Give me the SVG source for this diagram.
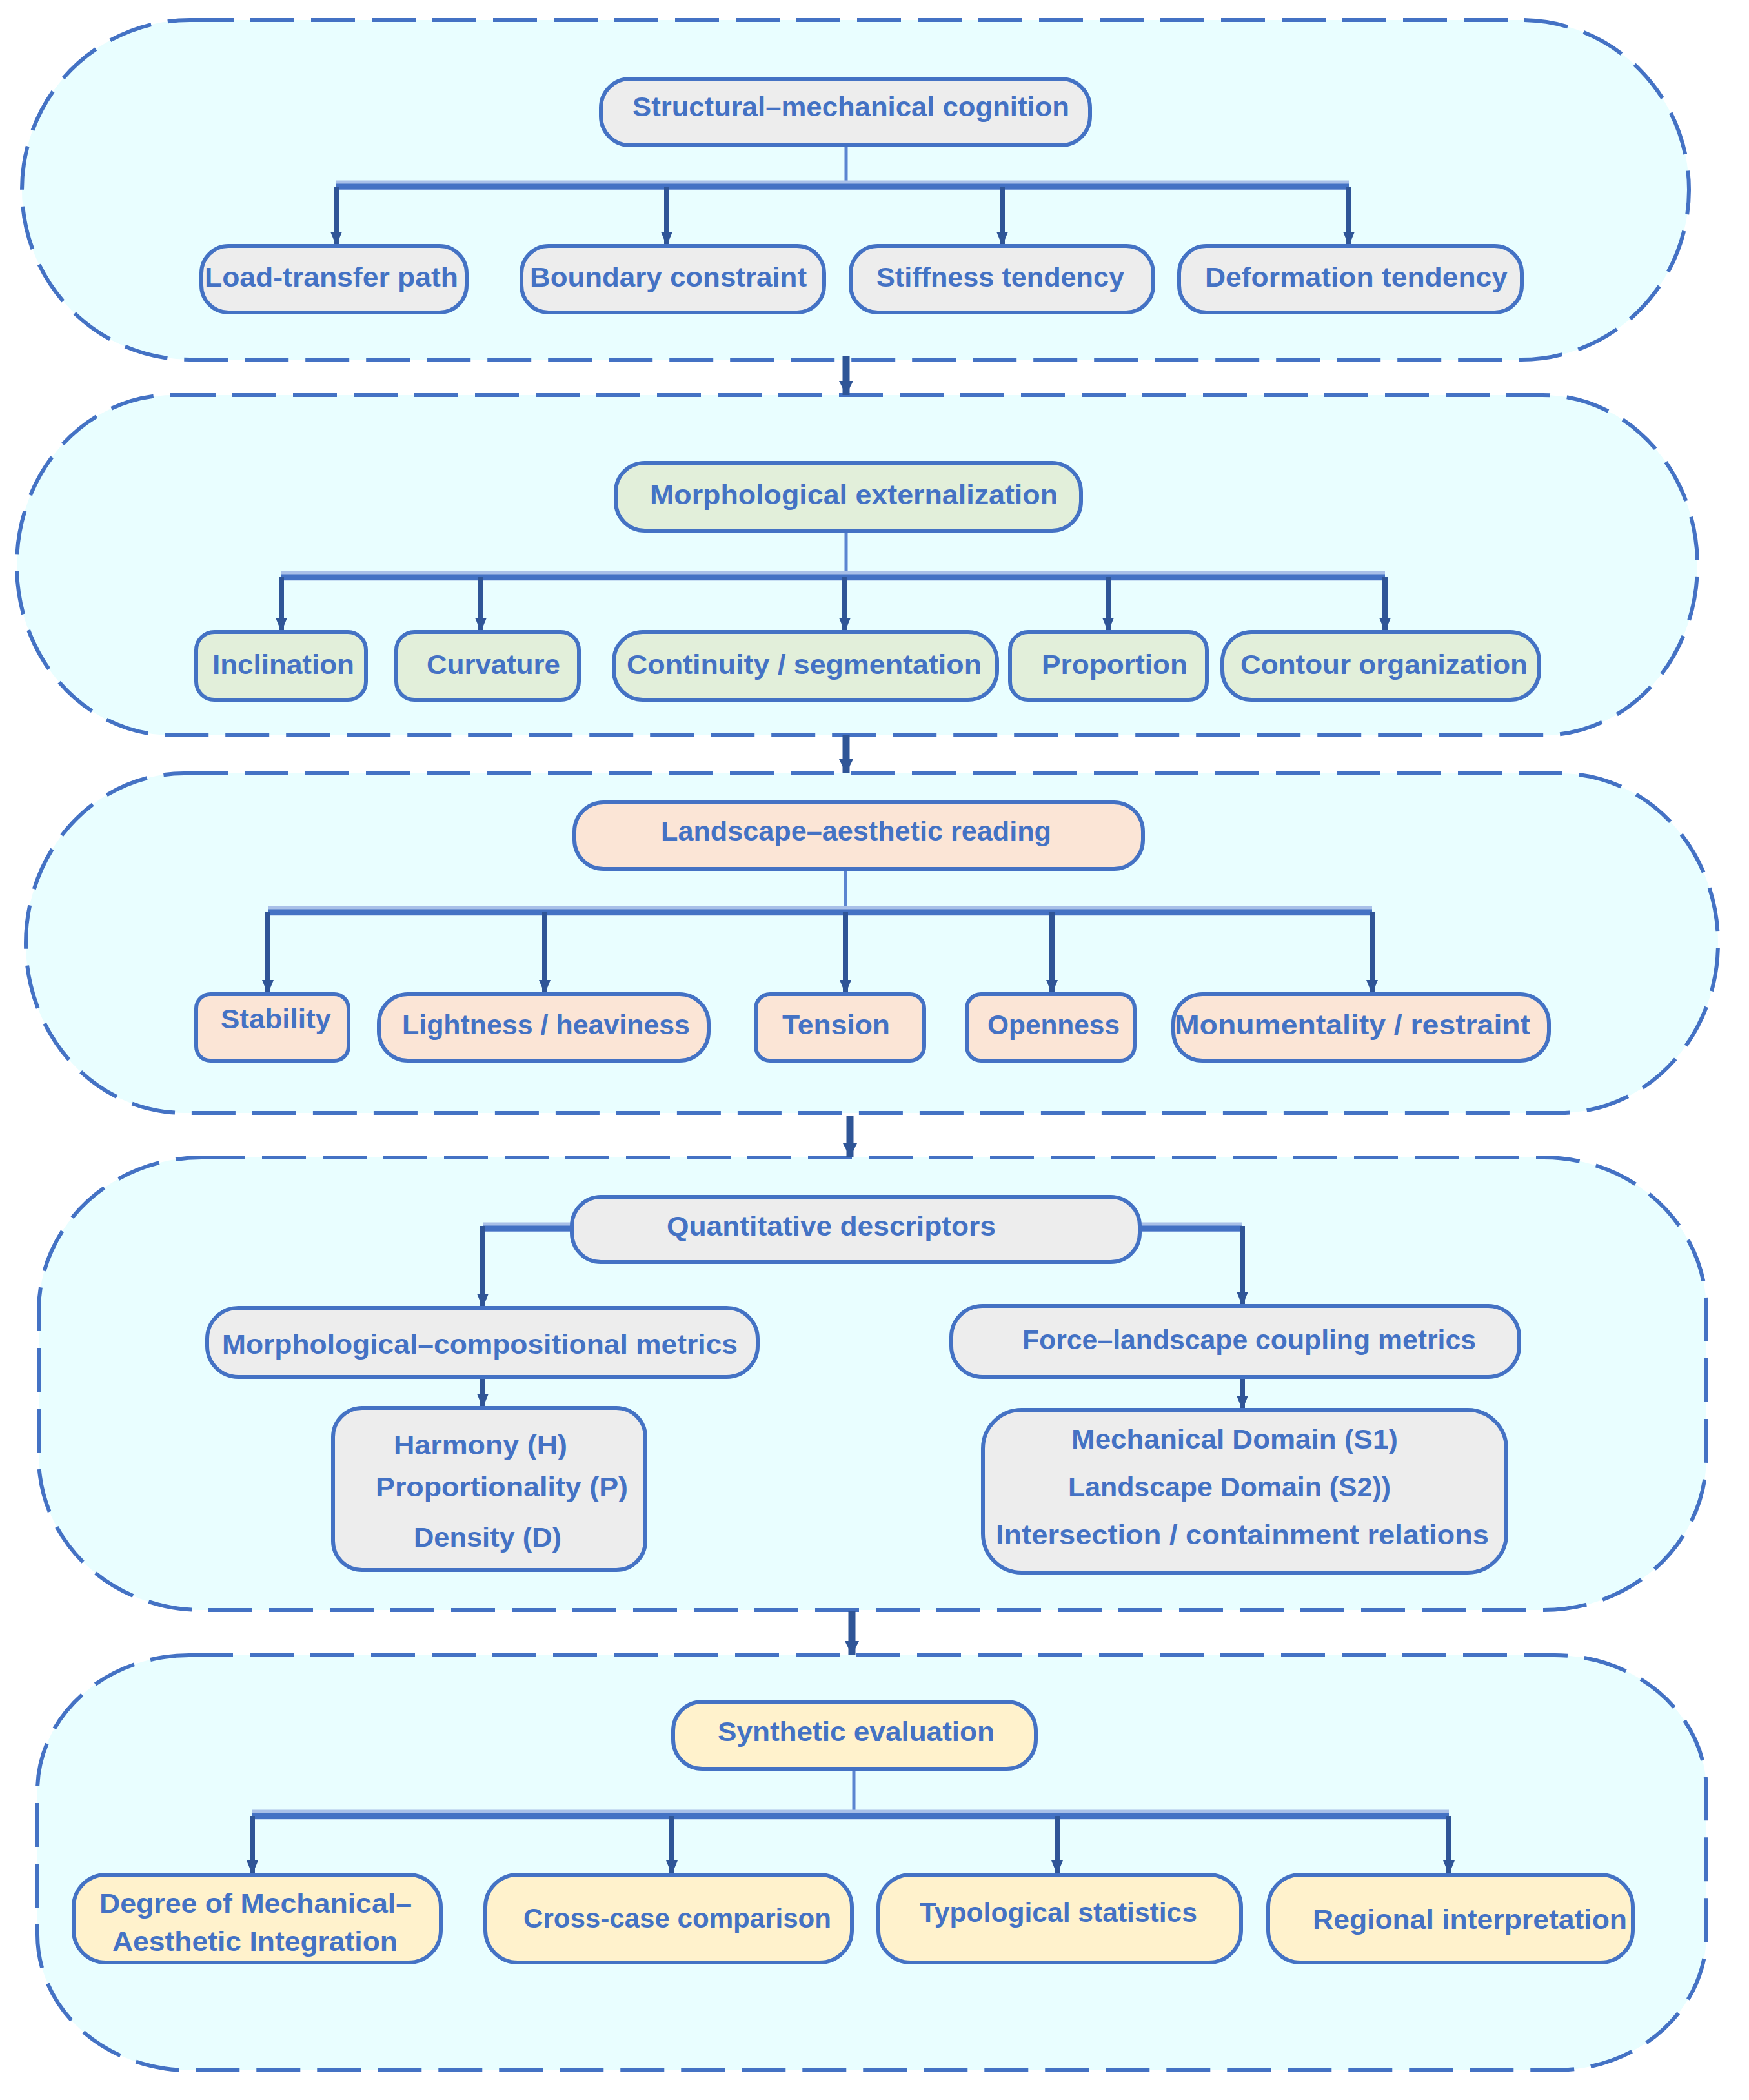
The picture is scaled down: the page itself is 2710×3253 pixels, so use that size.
<svg xmlns="http://www.w3.org/2000/svg" width="2710" height="3253" viewBox="0 0 2710 3253">
<style>
.panel{fill:#E9FEFF;stroke:#4472C4;stroke-width:6;stroke-dasharray:68 26}
.nd{stroke:#4472C4;stroke-width:6}
.halo{fill:none;stroke:#B4C7E7;stroke-width:12}
.g{fill:#EDEDED}.gr{fill:#E2EFDA}.pe{fill:#FBE5D6}.ye{fill:#FFF2CC}
.t{font-family:"Liberation Sans Narrow","Liberation Sans",Arial,sans-serif;font-weight:bold;font-size:42px;fill:#4472C4}
.trunk{stroke:#5B85D0;stroke-width:5;fill:none}
.bar{stroke:#4472C4;stroke-width:9;fill:none}
.barh{stroke:#A9C0E8;stroke-width:15;fill:none}
.drop{stroke:#2F5597;stroke-width:8;fill:none;marker-end:url(#ah)}
.big{stroke:#2F5597;stroke-width:11;fill:none;marker-end:url(#ahb)}
</style>
<defs>
<marker id="ah" markerUnits="userSpaceOnUse" viewBox="0 0 22 18" refX="22" refY="9" markerWidth="22" markerHeight="18" orient="auto"><path d="M0,0 L22,9 L0,18 z" fill="#2F5597"/></marker>
<marker id="ahb" markerUnits="userSpaceOnUse" viewBox="0 0 22 22" refX="22" refY="11" markerWidth="22" markerHeight="22" orient="auto"><path d="M0,0 L22,11 L0,22 z" fill="#2F5597"/></marker>
</defs>
<rect width="2710" height="3253" fill="#FFFFFF"/>
<g id="panels">
<rect id="panel1" class="panel" x="34" y="31" width="2583" height="526" rx="260" ry="263"/>
<rect id="panel2" class="panel" x="26" y="612" width="2604" height="527" rx="240" ry="263"/>
<rect id="panel3" class="panel" x="40" y="1198" width="2622" height="526" rx="245" ry="263"/>
<rect id="panel4" class="panel" x="60" y="1793" width="2584" height="701" rx="252" ry="237"/>
<rect id="panel5" class="panel" x="58" y="2564" width="2586" height="643" rx="235" ry="210"/>
</g>
<g id="connectors">
<!-- panel 1 -->
<path class="trunk" d="M1311,225 V289"/>
<path class="barh" d="M521,287 H2090"/>
<path class="bar" d="M521,289 H2090"/>
<path class="drop" d="M521,289 V381"/>
<path class="drop" d="M1033,289 V381"/>
<path class="drop" d="M1553,289 V381"/>
<path class="drop" d="M2090,289 V381"/>
<path class="big" d="M1311,551 V612"/>
<!-- panel 2 -->
<path class="trunk" d="M1311,822 V894"/>
<path class="barh" d="M436,892 H2146"/>
<path class="bar" d="M436,894 H2146"/>
<path class="drop" d="M436,894 V979"/>
<path class="drop" d="M745,894 V979"/>
<path class="drop" d="M1309,894 V979"/>
<path class="drop" d="M1717,894 V979"/>
<path class="drop" d="M2146,894 V979"/>
<path class="big" d="M1311,1139 V1198"/>
<!-- panel 3 -->
<path class="trunk" d="M1310,1346 V1413"/>
<path class="barh" d="M415,1411 H2126"/>
<path class="bar" d="M415,1413 H2126"/>
<path class="drop" d="M415,1413 V1540"/>
<path class="drop" d="M844,1413 V1540"/>
<path class="drop" d="M1310,1413 V1540"/>
<path class="drop" d="M1630,1413 V1540"/>
<path class="drop" d="M2126,1413 V1540"/>
<path class="big" d="M1317,1728 V1793"/>
<!-- panel 4 -->
<path class="barh" d="M886,1901 H748"/>
<path class="bar" d="M886,1903 H748"/>
<path class="barh" d="M1766,1901 H1925"/>
<path class="bar" d="M1766,1903 H1925"/>
<path class="drop" d="M748,1899 V2026"/>
<path class="drop" d="M1925,1899 V2023"/>
<path class="drop" d="M748,2133 V2181"/>
<path class="drop" d="M1925,2133 V2184"/>
<path class="big" d="M1320,2496 V2564"/>
<!-- panel 5 -->
<path class="trunk" d="M1323,2740 V2813"/>
<path class="barh" d="M391,2811 H2245"/>
<path class="bar" d="M391,2813 H2245"/>
<path class="drop" d="M391,2813 V2904"/>
<path class="drop" d="M1041,2813 V2904"/>
<path class="drop" d="M1638,2813 V2904"/>
<path class="drop" d="M2245,2813 V2904"/>
</g>
<g id="n1"><rect class="nd g" x="931" y="122" width="758" height="103" rx="45"/><text class="t" x="980" y="180" textLength="677" lengthAdjust="spacingAndGlyphs">Structural–mechanical cognition</text></g>
<g id="n1a"><rect class="nd g" x="312" y="381" width="411" height="103" rx="42"/><text class="t" x="317" y="444" textLength="393" lengthAdjust="spacingAndGlyphs">Load-transfer path</text></g>
<g id="n1b"><rect class="nd g" x="808" y="381" width="469" height="103" rx="42"/><text class="t" x="821" y="444" textLength="429" lengthAdjust="spacingAndGlyphs">Boundary constraint</text></g>
<g id="n1c"><rect class="nd g" x="1318" y="381" width="469" height="103" rx="42"/><text class="t" x="1358" y="444" textLength="384" lengthAdjust="spacingAndGlyphs">Stiffness tendency</text></g>
<g id="n1d"><rect class="nd g" x="1827" y="381" width="531" height="103" rx="42"/><text class="t" x="1867" y="444" textLength="469" lengthAdjust="spacingAndGlyphs">Deformation tendency</text></g>

<g id="n2"><rect class="nd gr" x="954" y="717" width="721" height="105" rx="45"/><text class="t" x="1007" y="781" textLength="632" lengthAdjust="spacingAndGlyphs">Morphological externalization</text></g>
<g id="n2a"><rect class="nd gr" x="304" y="979" width="263" height="105" rx="28"/><text class="t" x="329" y="1044" textLength="220" lengthAdjust="spacingAndGlyphs">Inclination</text></g>
<g id="n2b"><rect class="nd gr" x="614" y="979" width="283" height="105" rx="28"/><text class="t" x="661" y="1044" textLength="207" lengthAdjust="spacingAndGlyphs">Curvature</text></g>
<g id="n2c"><rect class="nd gr" x="951" y="979" width="594" height="105" rx="45"/><text class="t" x="971" y="1044" textLength="550" lengthAdjust="spacingAndGlyphs">Continuity / segmentation</text></g>
<g id="n2d"><rect class="nd gr" x="1565" y="979" width="305" height="105" rx="28"/><text class="t" x="1614" y="1044" textLength="226" lengthAdjust="spacingAndGlyphs">Proportion</text></g>
<g id="n2e"><rect class="nd gr" x="1894" y="979" width="491" height="105" rx="45"/><text class="t" x="1922" y="1044" textLength="445" lengthAdjust="spacingAndGlyphs">Contour organization</text></g>

<g id="n3"><rect class="nd pe" x="890" y="1243" width="881" height="103" rx="45"/><text class="t" x="1024" y="1302" textLength="605" lengthAdjust="spacingAndGlyphs">Landscape–aesthetic reading</text></g>
<g id="n3a"><rect class="nd pe" x="304" y="1540" width="236" height="103" rx="22"/><text class="t" x="342" y="1593" textLength="171" lengthAdjust="spacingAndGlyphs">Stability</text></g>
<g id="n3b"><rect class="nd pe" x="587" y="1540" width="511" height="103" rx="45"/><text class="t" x="623" y="1602" textLength="446" lengthAdjust="spacingAndGlyphs">Lightness / heaviness</text></g>
<g id="n3c"><rect class="nd pe" x="1171" y="1540" width="261" height="103" rx="22"/><text class="t" x="1212" y="1602" textLength="167" lengthAdjust="spacingAndGlyphs">Tension</text></g>
<g id="n3d"><rect class="nd pe" x="1498" y="1540" width="260" height="103" rx="22"/><text class="t" x="1530" y="1602" textLength="205" lengthAdjust="spacingAndGlyphs">Openness</text></g>
<g id="n3e"><rect class="nd pe" x="1818" y="1540" width="582" height="103" rx="45"/><text class="t" x="1820" y="1602" textLength="551" lengthAdjust="spacingAndGlyphs">Monumentality / restraint</text></g>

<g id="n4"><rect class="nd g" x="886" y="1854" width="880" height="101" rx="45"/><text class="t" x="1033" y="1914" textLength="510" lengthAdjust="spacingAndGlyphs">Quantitative descriptors</text></g>
<g id="n4a"><rect class="nd g" x="321" y="2026" width="853" height="107" rx="48"/><text class="t" x="344" y="2097" textLength="799" lengthAdjust="spacingAndGlyphs">Morphological–compositional metrics</text></g>
<g id="n4b"><rect class="nd g" x="1474" y="2023" width="880" height="110" rx="48"/><text class="t" x="1584" y="2090" textLength="703" lengthAdjust="spacingAndGlyphs">Force–landscape coupling metrics</text></g>
<g id="n4c"><rect class="nd g" x="516" y="2181" width="484" height="251" rx="45"/>
<text class="t" x="610" y="2253" textLength="269" lengthAdjust="spacingAndGlyphs">Harmony (H)</text>
<text class="t" x="582" y="2318" textLength="391" lengthAdjust="spacingAndGlyphs">Proportionality (P)</text>
<text class="t" x="641" y="2396" textLength="229" lengthAdjust="spacingAndGlyphs">Density (D)</text></g>
<g id="n4d"><rect class="nd g" x="1523" y="2184" width="811" height="252" rx="60"/>
<text class="t" x="1660" y="2244" textLength="506" lengthAdjust="spacingAndGlyphs">Mechanical Domain (S1)</text>
<text class="t" x="1655" y="2318" textLength="500" lengthAdjust="spacingAndGlyphs">Landscape Domain (S2))</text>
<text class="t" x="1543" y="2392" textLength="764" lengthAdjust="spacingAndGlyphs">Intersection / containment relations</text></g>

<g id="n5"><rect class="nd ye" x="1043" y="2636" width="562" height="104" rx="45"/><text class="t" x="1112" y="2697" textLength="429" lengthAdjust="spacingAndGlyphs">Synthetic evaluation</text></g>
<g id="n5a"><rect class="nd ye" x="114" y="2904" width="569" height="136" rx="50"/>
<text class="t" x="154" y="2963" textLength="484" lengthAdjust="spacingAndGlyphs">Degree of Mechanical–</text>
<text class="t" x="174" y="3022" textLength="442" lengthAdjust="spacingAndGlyphs">Aesthetic Integration</text></g>
<g id="n5b"><rect class="nd ye" x="752" y="2904" width="568" height="136" rx="50"/><text class="t" x="811" y="2986" textLength="477" lengthAdjust="spacingAndGlyphs">Cross-case comparison</text></g>
<g id="n5c"><rect class="nd ye" x="1361" y="2904" width="562" height="136" rx="50"/><text class="t" x="1425" y="2977" textLength="430" lengthAdjust="spacingAndGlyphs">Typological statistics</text></g>
<g id="n5d"><rect class="nd ye" x="1965" y="2904" width="565" height="136" rx="50"/><text class="t" x="2034" y="2988" textLength="487" lengthAdjust="spacingAndGlyphs">Regional interpretation</text></g>
</svg>
